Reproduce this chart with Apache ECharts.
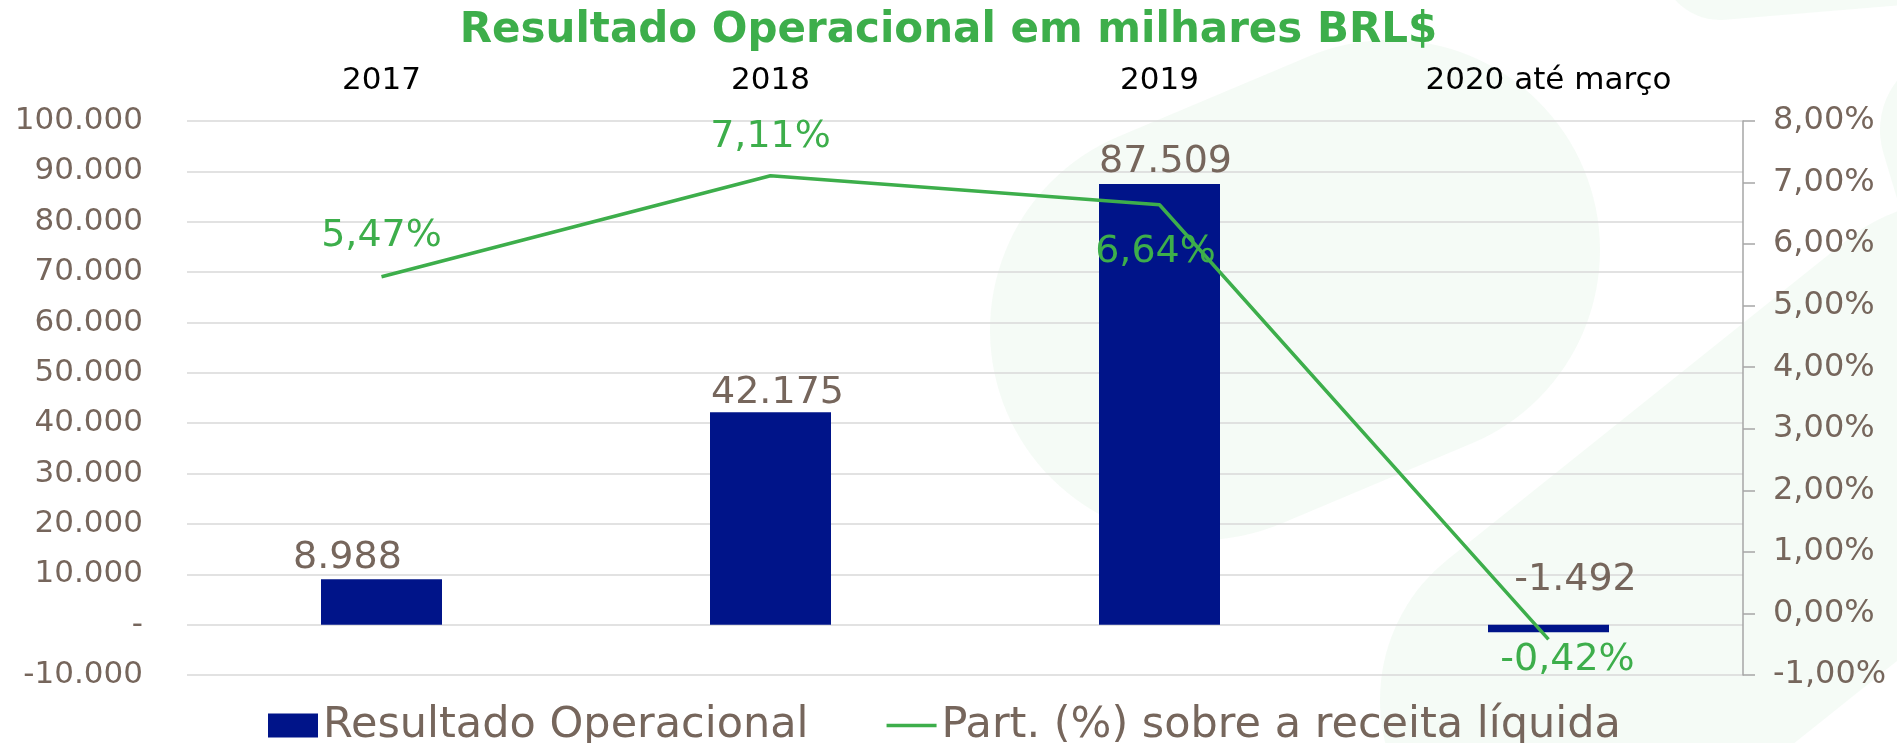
<!DOCTYPE html>
<html>
<head>
<meta charset="utf-8">
<script src="https://cdn.jsdelivr.net/npm/echarts@6/dist/echarts.min.js"></script>
<style>
    html, body { margin: 0; padding: 0; background: #fff; }
    #chart { width: 1897px; height: 743px; }
</style>
</head>
<body>
<div id="chart"></div>
<script>
    // dados
    var categorias = ['2017', '2018', '2019', '2020 até março'];
    var resultado = [8988, 42175, 87509, -1492];
    var participacao = [5.47, 7.11, 6.64, -0.42];

    var verde = '#3DAE4B';
    var marrom = '#76665C';
    var azul = '#001489';
    var fundo = 'rgba(61,174,75,0.05)';

    function milhares(v) {
        if (v === 0) return '-';
        var s = Math.abs(v).toFixed(0).replace(/\B(?=(\d{3})+(?!\d))/g, '.');
        return (v < 0 ? '-' : '') + s;
    }
    function pct(v) {
        return v.toFixed(2).replace('.', ',') + '%';
    }

    // ajustes finos das etiquetas (como no Excel)
    var barLabelOffsets = [[-34, 0], [7, 2], [6, -1], [27, -24]];
    var lineLabels = [
        {position: 'top', distance: 22, offset: [0, 0]},
        {position: 'top', distance: 20, offset: [0, 0]},
        {position: 'bottom', distance: 28, offset: [-4, 0]},
        {position: 'bottom', distance: 0, offset: [19, 2]}
    ];

    var myChart = echarts.init(document.getElementById('chart'));
    var option = {
        backgroundColor: '#fff',
        textStyle: { fontFamily: 'DejaVu Sans' },
        title: {
            text: 'Resultado Operacional em milhares BRL$',
            left: 'center',
            top: 10,
            padding: 0,
            textStyle: { color: verde, fontSize: 42, fontWeight: 'bold', fontFamily: 'DejaVu Sans' }
        },
        // marca d'água verde clara do fundo
        graphic: [
            {
                type: 'line', z: -10, silent: true,
                shape: { x1: 1200, y1: 330, x2: 1390, y2: 250 },
                style: { stroke: fundo, lineWidth: 420, lineCap: 'round' }
            },
            {
                type: 'line', z: -10, silent: true,
                shape: { x1: 1560, y1: 700, x2: 1960, y2: 380 },
                style: { stroke: fundo, lineWidth: 360, lineCap: 'round' }
            },
            {
                type: 'line', z: -10, silent: true,
                shape: { x1: 1720, y1: -40, x2: 1960, y2: -60 },
                style: { stroke: fundo, lineWidth: 120, lineCap: 'round' }
            },
            {
                type: 'line', z: -10, silent: true,
                shape: { x1: 1960, y1: 130, x2: 1990, y2: 230 },
                style: { stroke: fundo, lineWidth: 160, lineCap: 'round' }
            }
        ],
        legend: {
            left: 263,
            top: 699,
            itemWidth: 50,
            itemHeight: 24,
            itemGap: 78,
            textStyle: { color: marrom, fontSize: 43 },
            data: [
                { name: 'Resultado Operacional', icon: 'rect' },
                { name: 'Part. (%) sobre a receita líquida', icon: 'path://M0,0 H60 V4 H0 Z' }
            ]
        },
        grid: { left: 187, right: 154, top: 121, bottom: 68 },
        xAxis: {
            type: 'category',
            position: 'top',
            data: categorias,
            axisLine: { show: false, onZero: false },
            axisTick: { show: false },
            axisLabel: { color: '#000', fontSize: 31, margin: 25 }
        },
        yAxis: [
            {
                type: 'value',
                min: -10000,
                max: 100000,
                interval: 10000,
                axisLine: { show: false },
                axisTick: { show: false },
                splitLine: { lineStyle: { color: '#d9d9d9', width: 1.5 } },
                axisLabel: { color: marrom, fontSize: 31, margin: 44, formatter: milhares }
            },
            {
                type: 'value',
                min: -1,
                max: 8,
                interval: 1,
                position: 'right',
                axisLine: { show: true, lineStyle: { color: '#a6a6a6', width: 1.5 } },
                axisTick: { show: true, length: 12, lineStyle: { color: '#a6a6a6', width: 1.5 } },
                splitLine: { show: false },
                axisLabel: { color: marrom, fontSize: 32, margin: 30, formatter: pct }
            }
        ],
        series: [
            {
                name: 'Resultado Operacional',
                type: 'bar',
                barWidth: 121,
                itemStyle: { color: azul },
                label: {
                    show: true,
                    position: 'top',
                    distance: 2,
                    color: marrom,
                    fontSize: 38,
                    formatter: function (p) { return milhares(p.value); }
                },
                data: resultado.map(function (v, i) {
                    return { value: v, label: { offset: barLabelOffsets[i] } };
                })
            },
            {
                name: 'Part. (%) sobre a receita líquida',
                type: 'line',
                yAxisIndex: 1,
                symbol: 'circle',
                symbolSize: 0,
                itemStyle: { color: verde },
                lineStyle: { color: verde, width: 3.5 },
                label: {
                    show: true,
                    color: verde,
                    fontSize: 38,
                    formatter: function (p) { return pct(p.value); }
                },
                data: participacao.map(function (v, i) {
                    return { value: v, label: lineLabels[i] };
                })
            }
        ]
    };
    myChart.setOption(option);
</script>
</body>
</html>
